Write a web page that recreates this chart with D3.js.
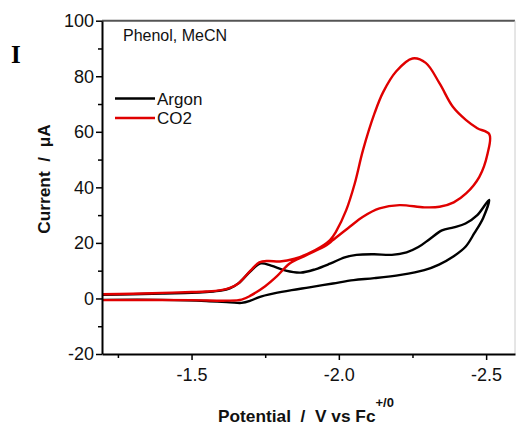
<!DOCTYPE html>
<html>
<head>
<meta charset="utf-8">
<script src="https://cdn.jsdelivr.net/npm/d3@7"></script>
<style>
  body { margin: 0; background: #fff; }
</style>
</head>
<body>
<div id="viz"></div>
<script>
// CV traces: potential (V vs Fc+/0) and current (uA)
const argonFwdV = [-1.19, -1.30, -1.40, -1.50, -1.55, -1.60, -1.63, -1.66, -1.70, -1.735, -1.77, -1.82, -1.87, -1.92, -1.97, -2.02, -2.06, -2.12, -2.18, -2.23, -2.27, -2.31, -2.35, -2.39, -2.43, -2.47, -2.51];
const argonFwdI = [1.3, 1.5, 1.8, 2.0, 2.3, 2.8, 3.6, 5.5, 9.8, 12.6, 11.8, 10.0, 9.3, 10.5, 12.5, 14.8, 15.7, 15.9, 15.7, 16.6, 18.5, 21.5, 24.5, 25.6, 27.0, 30.0, 35.5];
const argonRevV = [-2.49, -2.46, -2.43, -2.39, -2.34, -2.29, -2.21, -2.12, -2.05, -1.98, -1.90, -1.84, -1.78, -1.73, -1.70, -1.67, -1.63, -1.55, -1.40, -1.19];
const argonRevI = [29.0, 23.5, 18.6, 15.2, 12.2, 10.2, 8.5, 7.3, 6.6, 5.4, 4.0, 3.0, 1.8, 0.5, -0.8, -1.6, -1.4, -0.9, -0.5, -0.5];

const co2FwdV = [-1.19, -1.30, -1.40, -1.50, -1.55, -1.60, -1.63, -1.66, -1.70, -1.73, -1.76, -1.80, -1.85, -1.92, -1.97, -1.99, -2.025, -2.054, -2.082, -2.121, -2.15, -2.195, -2.25, -2.295, -2.342, -2.387, -2.432, -2.47, -2.511];
const co2FwdI = [1.5, 1.7, 2.0, 2.3, 2.5, 3.0, 3.8, 5.5, 10.0, 13.0, 13.5, 13.3, 14.3, 17.4, 21.0, 24.0, 31.8, 41.4, 53.4, 66.6, 74.2, 81.8, 86.4, 84.8, 77.4, 69.0, 64.2, 61.3, 59.1];
const co2RevV = [-2.505, -2.477, -2.432, -2.39, -2.342, -2.29, -2.206, -2.138, -2.082, -2.037, -1.98, -1.958, -1.89, -1.833, -1.79, -1.75, -1.70, -1.67, -1.62, -1.50, -1.19];
const co2RevI = [52.2, 43.8, 37.8, 34.6, 33.0, 32.8, 33.6, 32.4, 29.4, 25.8, 21.0, 19.2, 15.6, 12.6, 8.0, 4.4, 1.0, -0.4, -0.8, -0.6, -0.6];

const xMajor = [-1.5, -2.0, -2.5];
const xMinor = [-1.25, -1.75, -2.25];
const yMajor = [-20, 0, 20, 40, 60, 80, 100];
const yMinor = [-10, 10, 30, 50, 70, 90];

const width = 516, height = 425;
const margin = { top: 20.7, right: 1, bottom: 71, left: 102 };
const sans = "Arial, 'Liberation Sans', sans-serif";

const svg = d3.select("#viz").append("svg")
  .attr("width", width)
  .attr("height", height)
  .attr("font-family", sans);

const x = d3.scaleLinear().domain([-1.196, -2.598]).range([margin.left, width - margin.right]);
const y = d3.scaleLinear().domain([-20, 100]).range([height - margin.bottom, margin.top]);

svg.append("clipPath").attr("id", "plot")
  .append("rect")
  .attr("x", margin.left).attr("y", margin.top)
  .attr("width", width - margin.right - margin.left)
  .attr("height", height - margin.bottom - margin.top);

// frame: top and right edges
svg.append("line")
  .attr("x1", margin.left).attr("x2", width - margin.right)
  .attr("y1", margin.top).attr("y2", margin.top)
  .attr("stroke", "#555").attr("stroke-width", 2);
svg.append("line")
  .attr("x1", width - margin.right).attr("x2", width - margin.right)
  .attr("y1", margin.top).attr("y2", height - margin.bottom)
  .attr("stroke", "#ccc").attr("stroke-width", 1);

function zip(vs, is) {
  return vs.map((v, k) => [v, is[k]]);
}

const line = d3.line()
  .x(d => x(d[0]))
  .y(d => y(d[1]))
  .curve(d3.curveCatmullRom.alpha(0.5));

const traces = [
  { pts: zip(argonFwdV, argonFwdI).concat(zip(argonRevV, argonRevI)), color: "#000" },
  { pts: zip(co2FwdV, co2FwdI).concat(zip(co2RevV, co2RevI)), color: "#e00000" }
];

svg.append("g").attr("clip-path", "url(#plot)")
  .selectAll("path")
  .data(traces)
  .enter().append("path")
  .attr("d", d => line(d.pts))
  .attr("fill", "none")
  .attr("stroke", d => d.color)
  .attr("stroke-width", 2.4)
  .attr("stroke-linejoin", "round");

// axes
function styleAxis(g) {
  g.select(".domain").attr("stroke", "#000").attr("stroke-width", 2);
  g.selectAll(".tick line").attr("stroke", "#000").attr("stroke-width", 1.5);
  g.selectAll(".tick text").attr("font-size", 18).attr("fill", "#111").attr("font-family", sans);
}

svg.append("g")
  .attr("transform", `translate(${margin.left},0)`)
  .call(d3.axisLeft(y).tickValues(yMinor).tickSize(4).tickFormat(""))
  .call(g => g.select(".domain").remove())
  .call(g => g.selectAll(".tick line").attr("stroke", "#000").attr("stroke-width", 1.5));

svg.append("g")
  .attr("transform", `translate(${margin.left},0)`)
  .call(d3.axisLeft(y).tickValues(yMajor).tickSize(6).tickSizeOuter(0).tickPadding(2).tickFormat(d => String(d)))
  .call(styleAxis);

svg.append("g")
  .attr("transform", `translate(0,${height - margin.bottom})`)
  .call(d3.axisBottom(x).tickValues(xMinor).tickSize(4).tickFormat(""))
  .call(g => g.select(".domain").remove())
  .call(g => g.selectAll(".tick line").attr("stroke", "#000").attr("stroke-width", 1.5));

svg.append("g")
  .attr("transform", `translate(0,${height - margin.bottom})`)
  .call(d3.axisBottom(x).tickValues(xMajor).tickSize(6).tickSizeOuter(0).tickPadding(8).tickFormat(d => d.toFixed(1)))
  .call(styleAxis);

// axis titles
const xTitle = svg.append("text")
  .attr("x", 218).attr("y", 421.5)
  .style("white-space", "pre")
  .attr("font-size", 17.3).attr("font-weight", "bold").attr("fill", "#111");
xTitle.append("tspan").text("Potential  /  V vs Fc");
xTitle.append("tspan").attr("dy", -15).attr("font-size", 13).text("+/0");

svg.append("text")
  .attr("transform", "translate(50,179) rotate(-90)")
  .attr("text-anchor", "middle")
  .style("white-space", "pre")
  .attr("font-size", 17.3).attr("font-weight", "bold").attr("fill", "#111")
  .text("Current  /  μA");

// panel letter and annotation
svg.append("text")
  .attr("x", 11).attr("y", 63)
  .attr("font-family", "'Liberation Serif', 'Times New Roman', serif")
  .attr("font-size", 25).attr("font-weight", "bold")
  .text("I");

svg.append("text")
  .attr("x", 123).attr("y", 41)
  .attr("font-size", 16).attr("fill", "#111")
  .text("Phenol, MeCN");

// legend
const legend = svg.append("g");
[["Argon", "#000", 98.5], ["CO2", "#e00000", 118]].forEach(([name, color, ly]) => {
  legend.append("line")
    .attr("x1", 115).attr("x2", 155).attr("y1", ly).attr("y2", ly)
    .attr("stroke", color).attr("stroke-width", 2.4);
  legend.append("text")
    .attr("x", 157).attr("y", ly + 6)
    .attr("font-size", 17).attr("fill", "#111")
    .text(name);
});
</script>
</body>
</html>
